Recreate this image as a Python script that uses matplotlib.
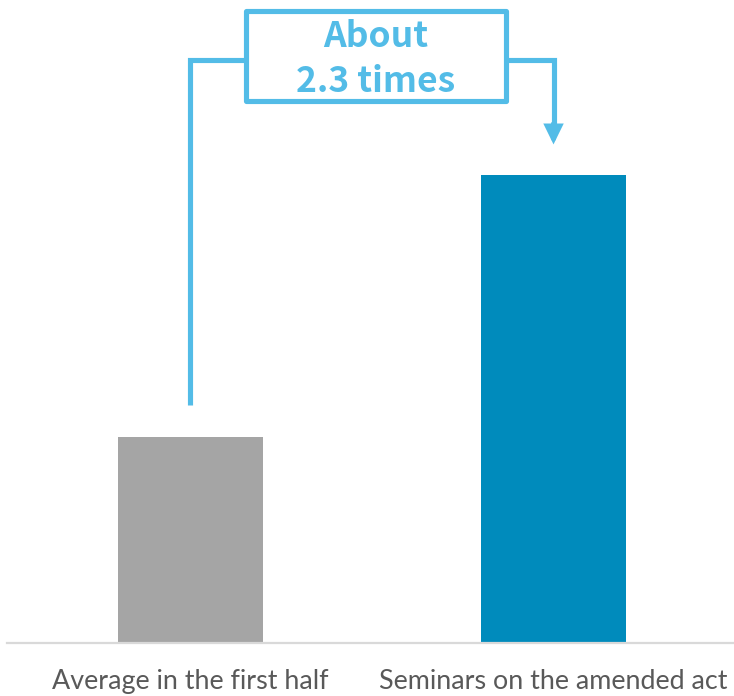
import matplotlib.pyplot as plt
from matplotlib.patches import Rectangle

categories = ["Average in the first half", "Seminars on the amended act"]
values = [1.0, 2.27]
bar_colors = ["#A5A5A5", "#008BBC"]
callout_lines = ["About", "2.3 times"]

line_color = "#53BCE7"

fig = plt.figure(figsize=(7.34, 6.96), dpi=100)
ax = fig.add_axes([7 / 734, 53 / 696, 727 / 734, 643 / 696])

x = [0, 1]
ax.bar(x, values, width=0.4, color=bar_colors, zorder=2)

ax.set_xlim(-0.505, 1.497)
ax.set_ylim(0, 3.121)

# only a light baseline, no ticks or frame
for side in ["top", "right", "left"]:
    ax.spines[side].set_visible(False)
ax.spines["bottom"].set_color("#D9D9D9")
ax.spines["bottom"].set_linewidth(1.6)
ax.set_yticks([])
ax.set_xticks([])

for xi, label in zip(x, categories):
    ax.text(xi, -0.222, label, ha="center", va="baseline", fontsize=19.4,
            color="#595959", family="Lato", clip_on=False)

# callout: bracket from the first bar over to the second
top_y = 2.828
box_left, box_right = 0.152, 0.868
box_bottom, box_top = 2.633, 3.07
tip_y = values[1] + 0.15
lw = 3.7

ax.plot([0, 0, box_left], [values[0] + 0.155, top_y, top_y],
        color=line_color, lw=lw, solid_joinstyle="miter", solid_capstyle="butt", zorder=3)
ax.plot([box_right, 1.0, 1.0], [top_y, top_y, tip_y + 0.06],
        color=line_color, lw=lw, solid_joinstyle="miter", solid_capstyle="butt", zorder=3)
ax.annotate("", xy=(1.0, tip_y), xytext=(1.0, tip_y + 0.1),
            arrowprops=dict(arrowstyle="-|>,head_width=0.22,head_length=0.45",
                            color=line_color, lw=lw, shrinkA=0, shrinkB=0,
                            joinstyle="miter", mutation_scale=20),
            zorder=3)

ax.add_patch(Rectangle((box_left, box_bottom), box_right - box_left, box_top - box_bottom,
                       facecolor="white", edgecolor=line_color, lw=lw,
                       joinstyle="round", zorder=4, clip_on=False))
for line, yb in zip(callout_lines, [2.893, 2.675]):
    ax.text(0.511, yb, line, ha="center", va="baseline", fontsize=25.5,
            fontweight="bold", color=line_color,
            family=["Noto Sans CJK JP", "DejaVu Sans"], zorder=5)

fig.savefig("out.png", dpi=100)
